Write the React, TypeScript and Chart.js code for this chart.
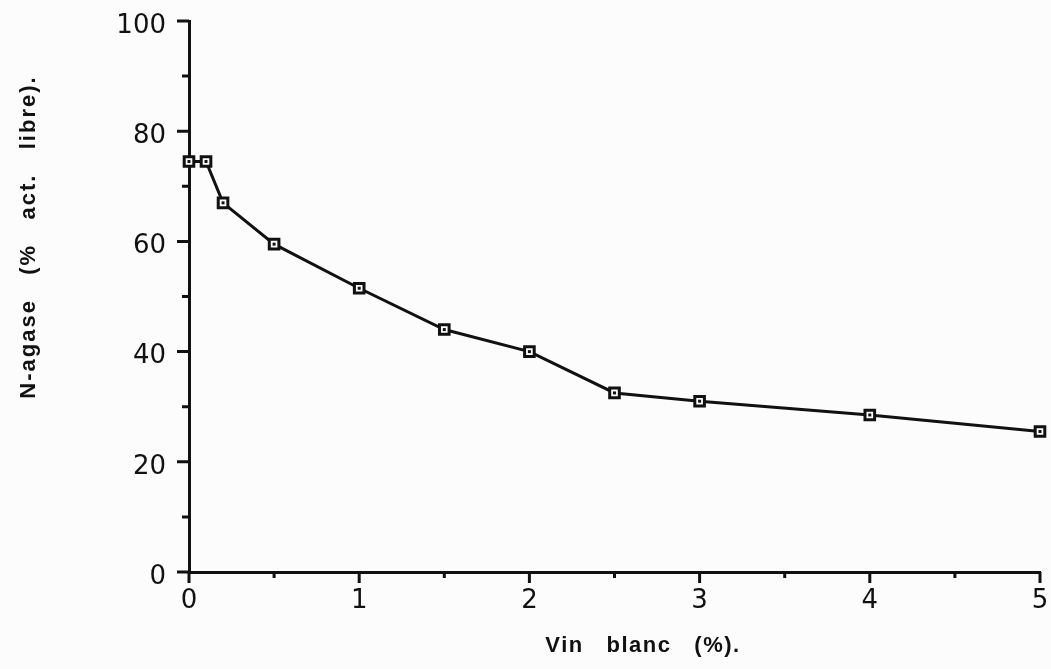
import React, { useEffect, useRef } from "react";
import { Chart, registerables } from "chart.js";

Chart.register(...registerables);

const xValues = [0, 0.1, 0.2, 0.5, 1, 1.5, 2, 2.5, 3, 4, 5];
const yValues = [74.5, 74.5, 67, 59.5, 51.5, 44, 40, 32.5, 31, 28.5, 25.5];
const xMajorTicks = [0, 1, 2, 3, 4, 5];
const xMinorTicks = [0.5, 1.5, 2.5, 3.5, 4.5];
const yMajorTicks = [0, 20, 40, 60, 80, 100];
const yMinorTicks = [10, 30, 50, 70, 90];
const xTitle = "Vin   blanc   (%).";
const yTitle = "N-agase   (%   act.   libre).";

const tickFont = "DejaVu Sans";
const titleFont = "'Liberation Sans', Arial, sans-serif";

const customPlugin = {
  id: "custom",
  beforeDraw(chart: any) {
    const { ctx, width, height } = chart;
    ctx.save();
    ctx.fillStyle = "#fcfcfc";
    ctx.fillRect(0, 0, width, height);
    ctx.restore();
  },
  afterDraw(chart: any) {
    const { ctx } = chart;
    const xs = chart.scales.x;
    const ys = chart.scales.y;
    const bottom = chart.chartArea.bottom;
    const left = chart.chartArea.left;
    ctx.save();
    ctx.strokeStyle = "#111";
    ctx.lineWidth = 3;
    ctx.beginPath();
    xMajorTicks.forEach((v) => {
      const p = xs.getPixelForValue(v);
      ctx.moveTo(p, bottom);
      ctx.lineTo(p, bottom + 11);
    });
    xMinorTicks.forEach((v) => {
      const p = xs.getPixelForValue(v);
      ctx.moveTo(p, bottom);
      ctx.lineTo(p, bottom + 6);
    });
    yMajorTicks.forEach((v) => {
      const p = ys.getPixelForValue(v);
      ctx.moveTo(left, p);
      ctx.lineTo(left - 12, p);
    });
    yMinorTicks.forEach((v) => {
      const p = ys.getPixelForValue(v);
      ctx.moveTo(left, p);
      ctx.lineTo(left - 7, p);
    });
    ctx.stroke();

    ctx.fillStyle = "#111";
    ctx.font = `bold 22px ${titleFont}`;
    (ctx as any).letterSpacing = "1.5px";
    ctx.textAlign = "center";
    ctx.textBaseline = "middle";
    ctx.fillText(xTitle, 643, 646);
    (ctx as any).letterSpacing = "2px";
    ctx.translate(29, 237);
    ctx.rotate(-Math.PI / 2);
    ctx.fillText(yTitle, 0, 0);
    ctx.restore();
  },
};

export default function App() {
  const canvasRef = useRef<HTMLCanvasElement | null>(null);

  useEffect(() => {
    if (!canvasRef.current) return;
    const points = xValues.map((x, i) => ({ x, y: yValues[i] }));
    const chart = new Chart(canvasRef.current, {
      type: "scatter",
      data: {
        datasets: [
          {
            data: points,
            showLine: false,
            pointStyle: "rect",
            pointRadius: 2.1,
            pointHoverRadius: 2.1,
            pointBorderWidth: 0,
            pointBackgroundColor: "#111",
            clip: false as any,
          },
          {
            data: points,
            showLine: true,
            borderColor: "#111",
            borderWidth: 3,
            pointStyle: "rect",
            pointRadius: 6.8,
            pointHoverRadius: 6.8,
            pointBorderWidth: 3,
            pointBorderColor: "#111",
            pointBackgroundColor: "#ffffff",
            clip: false as any,
          },
        ],
      },
      options: {
        responsive: false,
        animation: false,
        devicePixelRatio: 1,
        layout: { autoPadding: false, padding: { top: 21, right: 11, left: 0, bottom: 0 } },
        plugins: {
          legend: { display: false },
          tooltip: { enabled: false },
          title: { display: false },
        },
        scales: {
          x: {
            type: "linear",
            min: 0,
            max: 5,
            afterFit: (s: any) => {
              s.height = 97;
              s.paddingLeft = 0;
              s.paddingRight = 0;
            },
            border: { display: true, color: "#111", width: 3 },
            grid: {
              drawOnChartArea: false,
              drawTicks: true,
              tickLength: 11,
              tickColor: "rgba(0,0,0,0)",
            },
            ticks: {
              stepSize: 0.5,
              autoSkip: false,
              maxRotation: 0,
              padding: 3,
              color: "#111",
              font: { family: tickFont, size: 26 },
              callback: (v: any) => (Number.isInteger(v) ? String(v) : ""),
            },
          },
          y: {
            type: "linear",
            min: 0,
            max: 100,
            afterFit: (s: any) => {
              s.width = 189;
              s.paddingTop = 0;
              s.paddingBottom = 0;
            },
            border: { display: true, color: "#111", width: 3 },
            grid: {
              drawOnChartArea: false,
              drawTicks: true,
              tickLength: 12,
              tickColor: "rgba(0,0,0,0)",
            },
            ticks: {
              stepSize: 10,
              autoSkip: false,
              padding: 11,
              labelOffset: 5,
              color: "#111",
              font: { family: tickFont, size: 26 },
              callback: (v: any) => (v % 20 === 0 ? String(v) : ""),
            },
          },
        },
      },
      plugins: [customPlugin],
    });
    return () => chart.destroy();
  }, []);

  return (
    <div style={{ position: "fixed", left: 0, top: 0, width: 1051, height: 669 }}>
      <canvas ref={canvasRef} width={1051} height={669} style={{ display: "block" }} />
    </div>
  );
}
